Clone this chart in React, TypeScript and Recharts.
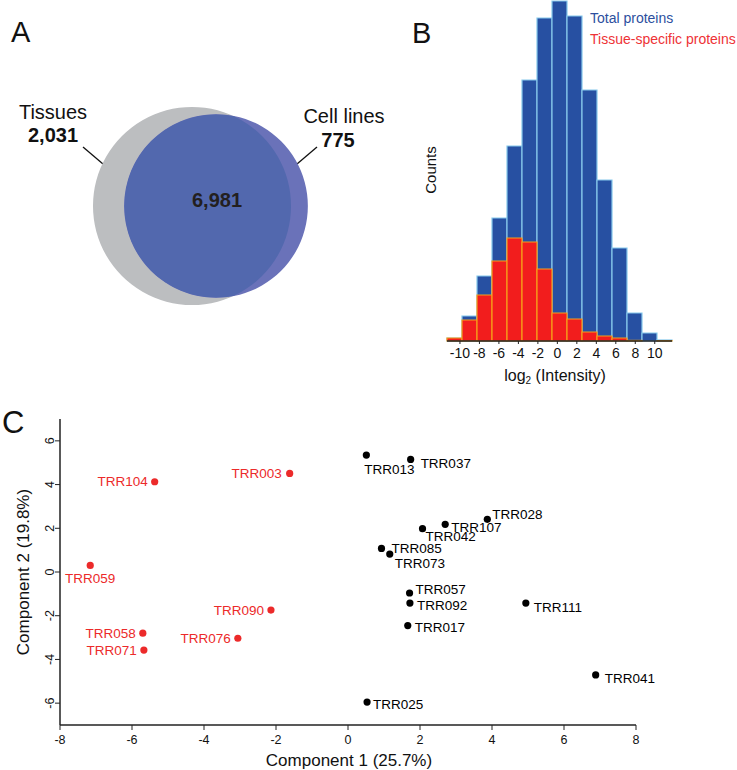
import React from 'react';
import { PieChart, Pie, Cell, BarChart, Bar, XAxis, YAxis, ScatterChart, Scatter } from 'recharts';

// A: Venn counts (proteins only in tissues, only in cell lines, shared)
const vennSets = ['Tissues', 'Cell lines'];
const vennOnly = [2031, 775];
const vennShared = 6981;

// B: histogram of log2 intensity, bin midpoints and counts (arbitrary units)
const binMids = [-10.56, -9.02, -7.48, -5.94, -4.4, -2.86, -1.32, 0.22, 1.76, 3.3, 4.84, 6.38, 7.92, 9.46, 11.0];
const totalCounts = [3, 25, 65, 123, 195, 261, 323, 340, 325, 251, 161, 93, 28, 8, 1];
const tissueCounts = [3, 21, 46, 80, 103, 99, 72, 28, 22, 9, 5, 3, 0.6, 0, 0.4];
const histTicks = [-10, -8, -6, -4, -2, 0, 2, 4, 6, 8, 10];

// C: PCA scores
const redNames = ['TRR104', 'TRR003', 'TRR059', 'TRR090', 'TRR058', 'TRR071', 'TRR076'];
const redX = [-5.37, -1.62, -7.16, -2.14, -5.7, -5.67, -3.06];
const redY = [4.13, 4.51, 0.3, -1.74, -2.8, -3.57, -3.03];
const blackNames = ['TRR013', 'TRR037', 'TRR028', 'TRR107', 'TRR042', 'TRR085', 'TRR073', 'TRR057', 'TRR092', 'TRR111', 'TRR017', 'TRR041', 'TRR025'];
const blackX = [0.51, 1.74, 3.87, 2.7, 2.07, 0.93, 1.16, 1.71, 1.72, 4.94, 1.66, 6.88, 0.53];
const blackY = [5.35, 5.15, 2.41, 2.18, 1.98, 1.08, 0.82, -0.96, -1.42, -1.42, -2.45, -4.71, -5.95];
const pcaXTicks = [-8, -6, -4, -2, 0, 2, 4, 6, 8];
const pcaYTicks = [-6, -4, -2, 0, 2, 4, 6];

// where each sample name sits relative to its dot: [dx, dy, anchor]
const labelPlace: Record<string, [number, number, 'start' | 'middle' | 'end']> = {
  TRR104: [-7, 0, 'end'],
  TRR003: [-8, 0, 'end'],
  TRR059: [0, 13, 'middle'],
  TRR090: [-7, 0, 'end'],
  TRR058: [-7, 0, 'end'],
  TRR071: [-7, 0, 'end'],
  TRR076: [-7, 0, 'end'],
  TRR013: [-2, 14, 'start'],
  TRR037: [10, 4, 'start'],
  TRR028: [5, -5, 'start'],
  TRR107: [6, 3, 'start'],
  TRR042: [3, 8, 'start'],
  TRR085: [10, 0, 'start'],
  TRR073: [5, 9, 'start'],
  TRR057: [6, -3, 'start'],
  TRR092: [7, 2, 'start'],
  TRR111: [8, 4, 'start'],
  TRR017: [7, 2, 'start'],
  TRR041: [9, 4, 'start'],
  TRR025: [6, 2, 'start'],
};

const RED = '#ec2a2a';
const INK = '#111';
const FONT = '"Liberation Sans", Arial, Helvetica, sans-serif';

const histData = binMids.map((mid, i) => ({ mid, total: totalCounts[i], tissue: tissueCounts[i] }));
const redData = redNames.map((name, i) => ({ name, x: redX[i], y: redY[i] }));
const blackData = blackNames.map((name, i) => ({ name, x: blackX[i], y: blackY[i] }));

// venn circle areas proportional to set sizes
const tissueTotal = vennOnly[0] + vennShared;
const cellTotal = vennOnly[1] + vennShared;
const rScale = 1.043;
const rTissue = rScale * Math.sqrt(tissueTotal);
const rCell = rScale * Math.sqrt(cellTotal);
const tissueC = { x: 192, y: 206 };
const cellC = { x: 216, y: 206 };

const Txt = ({ x, y, size, children, color = INK, bold = false, anchor = 'middle', rotate = false }: any) => (
  <div
    style={{
      position: 'absolute',
      left: x,
      top: y,
      fontSize: size,
      color,
      fontWeight: bold ? 700 : 400,
      lineHeight: 1,
      whiteSpace: 'nowrap',
      transform: `translate(${anchor === 'middle' ? '-50%' : '0'}, -50%)${rotate ? ' rotate(-90deg)' : ''}`,
    }}
  >
    {children}
  </div>
);

const makeDot = (color: string) => (props: any) => {
  const { cx, cy, payload } = props;
  const [dx, dy, anchor] = labelPlace[payload.name] ?? [7, 0, 'start'];
  return (
    <g>
      <circle cx={cx} cy={cy} r={3.6} fill={color} />
      <text x={cx + dx} y={cy + dy} textAnchor={anchor} dominantBaseline="central" fill={color} fontSize={13.5}>
        {payload.name}
      </text>
    </g>
  );
};

const FlatTick = ({ x, y, payload, size }: any) => (
  <text x={x} y={y} dy="0.71em" textAnchor="middle" fill={INK} fontSize={size}>
    {payload.value}
  </text>
);

const RotTick = ({ x, y, payload }: any) => (
  <text x={x} y={y} transform={`rotate(-90, ${x}, ${y})`} textAnchor="middle" dominantBaseline="central" fill={INK} fontSize={12.5}>
    {payload.value}
  </text>
);

export default function App() {
  return (
    <div style={{ position: 'absolute', left: 0, top: 0, width: 737, height: 770, background: '#fff', fontFamily: FONT, overflow: 'hidden' }}>
      <style>{`.venn-shared { clip-path: url(#cellClip); }`}</style>

      {/* A: Venn */}
      <div style={{ position: 'absolute', left: 0, top: 0 }}>
        <PieChart width={380} height={340} margin={{ top: 0, right: 0, bottom: 0, left: 0 }}>
          <defs>
            <clipPath id="cellClip">
              <circle cx={cellC.x} cy={cellC.y} r={rCell} />
            </clipPath>
          </defs>
          <Pie data={[{ name: vennSets[0], value: tissueTotal }]} dataKey="value" cx={tissueC.x} cy={tissueC.y}
            outerRadius={rTissue} innerRadius={0} startAngle={90} endAngle={450} stroke="none" isAnimationActive={false}>
            <Cell fill="#bcbec0" />
          </Pie>
          <Pie data={[{ name: vennSets[1], value: cellTotal }]} dataKey="value" cx={cellC.x} cy={cellC.y}
            outerRadius={rCell} innerRadius={0} startAngle={90} endAngle={450} stroke="none" isAnimationActive={false}>
            <Cell fill="#6a72b9" />
          </Pie>
          <Pie className="venn-shared" data={[{ name: 'shared', value: vennShared }]} dataKey="value" cx={tissueC.x} cy={tissueC.y}
            outerRadius={rTissue} innerRadius={0} startAngle={90} endAngle={450} stroke="none" isAnimationActive={false}>
            <Cell fill="#5268ae" />
          </Pie>
          <line x1={83} y1={147} x2={103} y2={164} stroke={INK} strokeWidth={1.3} />
          <line x1={317} y1={147} x2={297} y2={164} stroke={INK} strokeWidth={1.3} />
        </PieChart>
      </div>
      <Txt x={11} y={32} size={29} anchor="start">A</Txt>
      <Txt x={53} y={112} size={20}>{vennSets[0]}</Txt>
      <Txt x={53} y={135} size={20} bold>{vennOnly[0].toLocaleString('en-US')}</Txt>
      <Txt x={344} y={116} size={20}>{vennSets[1]}</Txt>
      <Txt x={338} y={140} size={20} bold>{vennOnly[1].toLocaleString('en-US')}</Txt>
      <Txt x={217} y={200} size={20} bold color="#231f20">{vennShared.toLocaleString('en-US')}</Txt>

      {/* B: histogram */}
      <div style={{ position: 'absolute', left: 380, top: 0 }}>
        <BarChart width={357} height={400} data={histData} margin={{ top: 0, right: 65, bottom: 29, left: 67 }} barCategoryGap={0} barGap={0}>
          <XAxis type="number" dataKey="mid" domain={[-11.33, 11.77]} ticks={histTicks} interval={0}
            axisLine={{ stroke: '#222', strokeWidth: 1.5 }} tickLine={{ stroke: '#222' }} tickSize={3} tickMargin={4}
            tick={<FlatTick size={14} />} height={30} />
          <XAxis xAxisId="tissue" type="number" dataKey="mid" domain={[-11.33, 11.77]} hide />
          <YAxis type="number" domain={[0, 341]} tick={false} tickLine={false} width={0}
            axisLine={{ stroke: '#444', strokeWidth: 1.5 }} />
          <Bar dataKey="total" fill="#2750a2" stroke="#86c8ec" strokeWidth={1.2} isAnimationActive={false} />
          <Bar dataKey="tissue" xAxisId="tissue" fill="#f21d1d" stroke="#f6a01a" strokeWidth={1.2} isAnimationActive={false} />
        </BarChart>
      </div>
      <Txt x={412} y={33} size={29} anchor="start">B</Txt>
      <Txt x={430} y={170} size={15} rotate>Counts</Txt>
      <Txt x={555} y={377} size={16}>
        log<sub style={{ fontSize: 10, verticalAlign: -3 }}>2</sub> (Intensity)
      </Txt>
      <Txt x={590} y={18} size={14} anchor="start" color="#2c4f9e">Total proteins</Txt>
      <Txt x={590} y={39} size={14} anchor="start" color="#ee3236">Tissue-specific proteins</Txt>

      {/* C: PCA */}
      <div style={{ position: 'absolute', left: 0, top: 400 }}>
        <ScatterChart width={737} height={370} margin={{ top: 19, right: 101, bottom: 0, left: 20 }}>
          <XAxis type="number" dataKey="x" domain={[-8, 8]} ticks={pcaXTicks} interval={0}
            axisLine={{ stroke: '#222', strokeWidth: 1.5 }} tickLine={{ stroke: '#222' }} tickSize={5} tickMargin={5}
            tick={<FlatTick size={12.5} />} height={45} />
          <YAxis type="number" dataKey="y" domain={[-7, 7]} ticks={pcaYTicks} interval={0}
            axisLine={{ stroke: '#222', strokeWidth: 1.5 }} tickLine={{ stroke: '#222' }} tickSize={5} tickMargin={5}
            tick={<RotTick />} width={40} />
          <Scatter data={redData} fill={RED} shape={makeDot(RED)} isAnimationActive={false} />
          <Scatter data={blackData} fill="#000" shape={makeDot('#000')} isAnimationActive={false} />
        </ScatterChart>
      </div>
      <Txt x={2} y={422} size={31} anchor="start">C</Txt>
      <Txt x={349} y={760} size={17}>Component 1 (25.7%)</Txt>
      <Txt x={23} y={572} size={17} rotate>Component 2 (19.8%)</Txt>
    </div>
  );
}
